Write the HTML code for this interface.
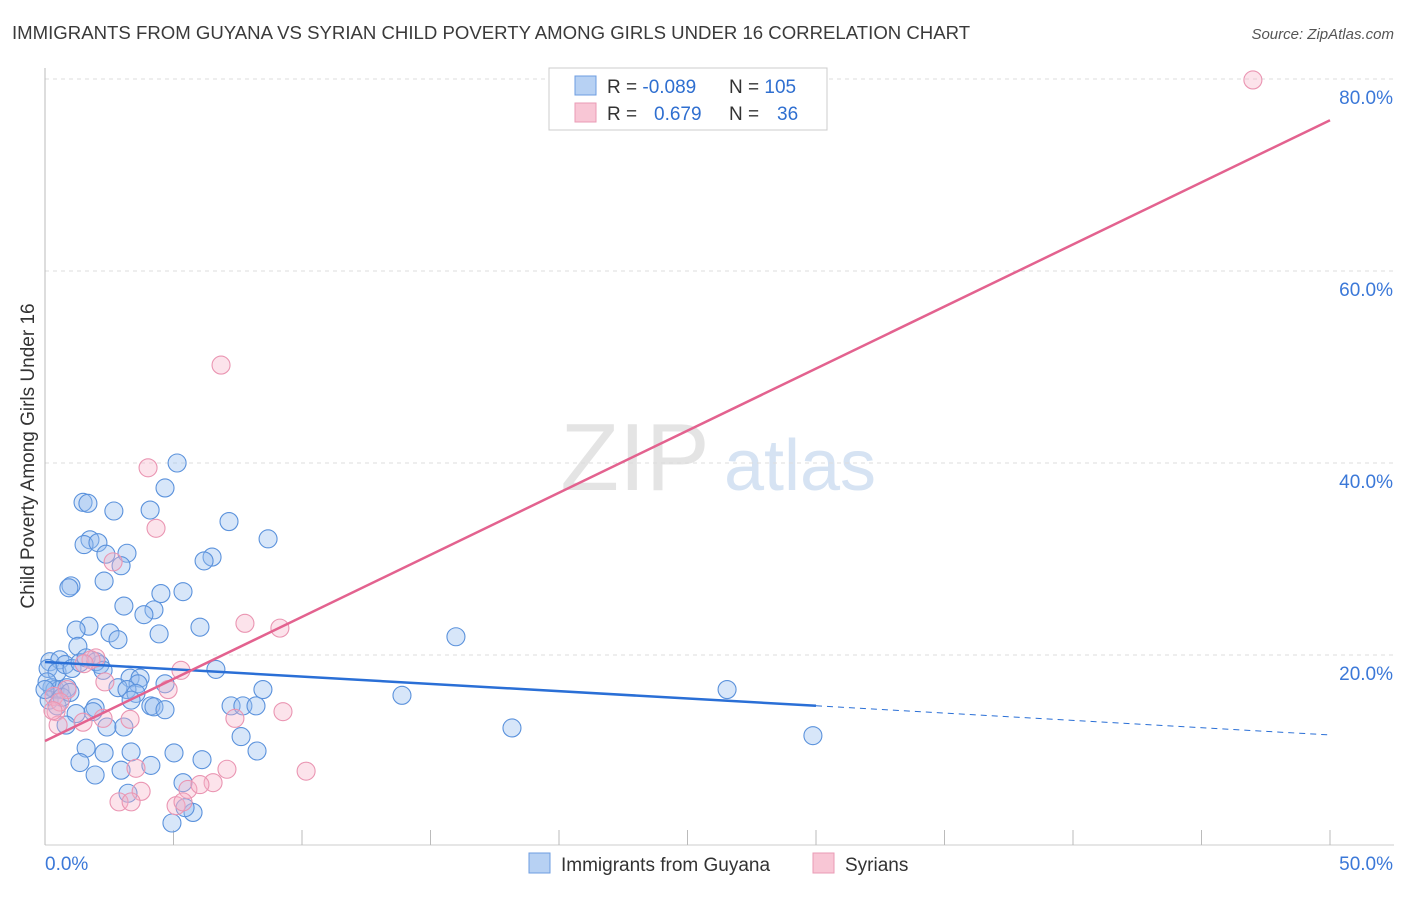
<!DOCTYPE html>
<html><head><meta charset="utf-8"><style>
body{margin:0;background:#fff;font-family:"Liberation Sans",sans-serif;}
svg text{font-family:"Liberation Sans",sans-serif;}
</style></head><body>
<svg id="chart" width="1406" height="892" viewBox="0 0 1406 892" xmlns="http://www.w3.org/2000/svg">
<text x="12" y="39" font-size="18.6" fill="#3a3a3a">IMMIGRANTS FROM GUYANA VS SYRIAN CHILD POVERTY AMONG GIRLS UNDER 16 CORRELATION CHART</text>
<text x="1394" y="39" font-size="15" fill="#555" text-anchor="end" font-style="italic">Source: ZipAtlas.com</text>
<g>
<text x="635" y="490" font-size="96" fill="#e4e4e4" font-family="Liberation Serif" text-anchor="middle">ZIP</text>
<text x="800" y="490" font-size="72" fill="#d6e3f3" text-anchor="middle">atlas</text>
</g>
<g id="grid"></g>
<g id="axes"></g>
<g id="marks"></g>
<g id="lines"></g>
<text transform="translate(34,456) rotate(-90)" font-size="19" fill="#333" text-anchor="middle">Child Poverty Among Girls Under 16</text>
<g>
<rect x="549" y="68" width="278" height="62" fill="#fff" stroke="#ccc"/>
<rect x="575" y="76" width="21" height="19" fill="#b7d1f3" stroke="#6d9de0"/>
<rect x="575" y="103" width="21" height="19" fill="#f8c6d5" stroke="#ea9bb5"/>
<text x="607" y="93" font-size="19" fill="#333">R = <tspan fill="#2f6fd0">-0.089</tspan><tspan x="729">N = </tspan><tspan fill="#2f6fd0">105</tspan></text>
<text x="607" y="120" font-size="19" fill="#333">R = <tspan x="654" fill="#2f6fd0">0.679</tspan><tspan x="729">N = </tspan><tspan x="777" fill="#2f6fd0">36</tspan></text>
</g>
<g>
<rect x="529" y="853" width="21" height="20" fill="#b7d1f3" stroke="#6d9de0"/>
<text x="561" y="871" font-size="19" fill="#333">Immigrants from Guyana</text>
<rect x="813" y="853" width="21" height="20" fill="#f8c6d5" stroke="#ea9bb5"/>
<text x="845" y="871" font-size="19" fill="#333">Syrians</text>
</g>
</svg>
<script>
const blueX=[5.14,4.67,1.48,1.67,4.09,2.68,7.16,8.68,1.75,1.52,2.06,2.37,3.19,6.5,6.19,2.96,1.01,0.93,2.30,5.37,4.51,3.07,4.24,3.85,2.53,6.03,4.44,2.84,1.71,1.21,1.28,15.99,0.19,0.58,0.12,0.47,0.78,1.05,1.36,2.14,1.60,1.98,2.26,3.31,3.70,3.62,4.67,2.84,3.19,3.54,6.65,8.48,13.89,26.54,0.27,0.39,0.58,0.86,0.16,0.47,1.95,1.87,4.12,4.24,7.24,7.70,8.21,4.67,3.35,1.21,0.82,2.41,3.07,7.63,18.17,29.88,1.60,2.30,3.35,5.02,6.11,8.25,1.36,1.95,2.96,4.12,5.37,3.23,5.76,4.94,5.45,0.08,0.0,0.66,0.97];
const blueY=[40.0,37.4,35.9,35.8,35.1,35.0,33.9,32.1,32.0,31.5,31.7,30.5,30.6,30.2,29.8,29.3,27.2,27.0,27.7,26.6,26.4,25.1,24.7,24.2,22.3,22.9,22.2,21.6,23.0,22.6,20.9,21.9,19.3,19.5,18.6,18.2,19.0,18.6,19.2,19.0,19.7,19.3,18.4,17.6,17.6,17.0,17.0,16.6,16.4,16.0,18.5,16.4,15.8,16.4,16.6,16.4,16.4,16.6,15.3,14.7,14.5,14.1,14.7,14.6,14.7,14.7,14.7,14.3,15.3,13.9,12.7,12.5,12.5,11.5,12.4,11.6,10.3,9.8,9.9,9.8,9.1,10.0,8.8,7.5,8.0,8.5,6.7,5.6,3.6,2.5,4.1,17.2,16.4,15.6,16.1];
const pinkX=[47.0,6.85,4.01,4.32,2.65,5.29,7.78,9.14,4.79,3.31,7.39,9.26,10.16,0.43,0.51,1.48,2.26,1.98,1.79,1.52,2.33,0.86,0.35,0.58,0.31,3.54,3.74,2.88,3.35,5.56,6.54,7.08,6.03,5.10,5.37];
const pinkY=[79.9,50.2,39.5,33.2,29.7,18.4,23.3,22.8,16.4,13.3,13.4,14.1,7.9,14.1,12.7,13.0,13.4,19.7,19.5,19.1,17.2,16.4,15.7,15.1,14.2,8.2,5.8,4.7,4.7,6.0,6.7,8.1,6.5,4.3,4.7];
const blueTrend=[19.27,11.67];
const blueSolidEnd=30.0;
const pinkTrend=[11.04,75.7];
const yTicks=[20,40,60,80];
const yTickLabels=["20.0%","40.0%","60.0%","80.0%"];
const xTicks=[0,5,10,15,20,25,30,35,40,45,50];
const xEndLabels=["0.0%","50.0%"];

const NS="http://www.w3.org/2000/svg";
const sx=v=>45+v*25.7;
const sy=v=>847-v*9.6;
function mk(tag,attrs,parent){const e=document.createElementNS(NS,tag);for(const k in attrs)e.setAttribute(k,attrs[k]);document.getElementById(parent).appendChild(e);return e;}

yTicks.forEach((t,i)=>{
  const g=mk('line',{x1:45,x2:1394,y1:sy(t),y2:sy(t),stroke:'#ddd','stroke-dasharray':'4,4'},'grid');
  
  
  const l=mk('text',{x:1393,y:sy(t)+25,'font-size':19,fill:'#3b78d8','text-anchor':'end'},'grid');
  l.textContent=yTickLabels[i];
  
  
});
const ax=mk('line',{x1:45,x2:45,y1:68,y2:845,stroke:'#bbb'},'axes');


const bx=mk('line',{x1:45,x2:1394,y1:845,y2:845,stroke:'#ccc'},'axes');


xTicks.forEach(t=>{
  const tk=mk('line',{x1:sx(t),x2:sx(t),y1:830,y2:845,stroke:'#bbb'},'axes');
  
  
});
const xl0=mk('text',{x:45,y:870,'font-size':19,fill:'#3b78d8'},'axes');
xl0.textContent=xEndLabels[0];


const xl1=mk('text',{x:1393,y:870,'font-size':19,fill:'#3b78d8','text-anchor':'end'},'axes');
xl1.textContent=xEndLabels[1];



blueX.forEach((x,i)=>{
  const c=mk('circle',{cx:sx(x),cy:sy(blueY[i]),r:9,fill:'rgba(150,188,238,0.38)',stroke:'#5b92dc','stroke-width':1.1},'marks');
  
  
});
pinkX.forEach((x,i)=>{
  const c=mk('circle',{cx:sx(x),cy:sy(pinkY[i]),r:9,fill:'rgba(246,178,200,0.36)',stroke:'#ea95b2','stroke-width':1.1},'marks');
  
  
});
const bAt=x=>blueTrend[0]+(blueTrend[1]-blueTrend[0])*x/50;
const b1=mk('line',{x1:sx(0),y1:sy(bAt(0)),x2:sx(blueSolidEnd),y2:sy(bAt(blueSolidEnd)),stroke:'#2a6fd6','stroke-width':2.5},'lines');


const b2=mk('line',{x1:sx(blueSolidEnd),y1:sy(bAt(blueSolidEnd)),x2:sx(50),y2:sy(bAt(50)),stroke:'#2a6fd6','stroke-width':1,'stroke-dasharray':'6,5'},'lines');


const p1=mk('line',{x1:sx(0),y1:sy(pinkTrend[0]),x2:sx(50),y2:sy(pinkTrend[1]),stroke:'#e3628f','stroke-width':2.5},'lines');


</script>
</body></html>
